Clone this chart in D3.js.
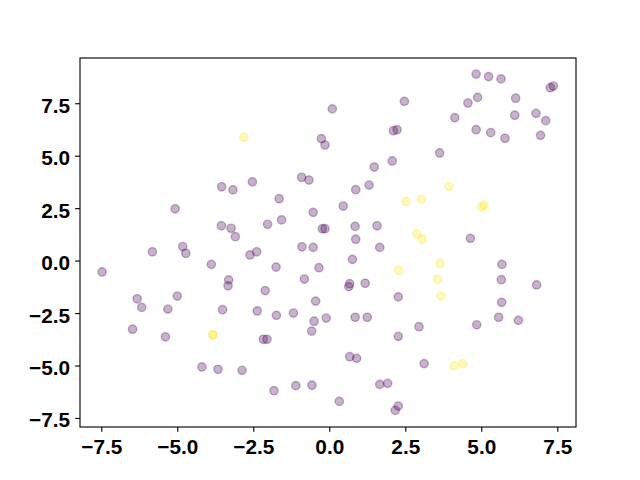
<!DOCTYPE html>
<html>
<head>
<meta charset="utf-8">
<script src="https://cdn.jsdelivr.net/npm/d3@7"></script>
<style>
  html, body { margin: 0; padding: 0; background: #fff; }
  svg { display: block; }
  .tick text { font-family: "Liberation Sans", Arial, sans-serif; font-weight: bold; font-size: 20.8px; fill: #000; }
</style>
</head>
<body>
<script>
// Data
const purpleX = [-3.54,-3.17,-2.53,-5.07,-3.55,-3.23,-3.09,-4.82,-4.72,-5.82,0.10,2.47,2.11,2.23,-0.26,-0.14,2.07,1.48,-0.91,-0.67,1.31,0.87,-1.65,0.46,-0.53,-2.03,-1.57,-0.23,-0.14,0.85,1.57,0.87,-0.90,-0.53,1.66,-2.39,4.83,5.24,5.65,7.27,7.37,4.88,4.56,6.13,4.13,6.10,6.80,7.12,4.83,5.31,5.78,6.95,3.63,4.64,-7.47,-3.88,-3.31,-3.33,-6.32,-6.17,-5.00,-5.31,-3.51,-6.47,-5.39,-4.19,-3.66,-2.87,-2.61,-1.75,-0.34,0.76,-0.82,0.67,0.64,1.18,-2.11,-0.45,2.27,-2.37,-1.74,-1.18,-0.50,-0.10,-0.58,0.85,1.25,2.27,2.95,-2.17,-2.05,0.67,0.90,-1.82,-1.10,-0.57,1.66,1.92,0.33,2.17,2.27,5.68,5.66,6.82,5.67,4.85,5.57,6.22,3.12];
const purpleY = [3.52,3.37,3.75,2.47,1.66,1.54,1.14,0.67,0.35,0.42,7.23,7.59,6.19,6.24,5.81,5.51,4.75,4.46,3.97,3.84,3.60,3.38,2.95,2.60,2.30,1.73,1.94,1.52,1.52,1.63,1.66,1.02,0.66,0.63,0.63,0.42,8.89,8.77,8.66,8.24,8.32,7.78,7.51,7.74,6.81,6.93,7.02,6.67,6.24,6.10,5.83,5.97,5.13,1.06,-0.54,-0.18,-0.92,-1.20,-1.82,-2.23,-1.69,-2.31,-2.34,-3.27,-3.63,-5.07,-5.18,-5.23,0.27,-0.31,-0.34,0.06,-0.88,-1.10,-1.24,-1.08,-1.43,-1.93,-1.73,-2.40,-2.61,-2.50,-2.89,-2.74,-3.36,-2.70,-2.70,-3.61,-3.15,-3.75,-3.75,-4.58,-4.66,-6.20,-5.96,-5.94,-5.90,-5.85,-6.71,-7.14,-6.93,-0.18,-0.91,-1.16,-1.99,-3.06,-2.70,-2.85,-4.91];
const yellowX = [-2.81,2.52,3.94,3.03,5.09,5.03,2.88,3.06,-3.83,-3.82,2.28,3.64,3.57,3.68,4.10,4.38];
const yellowY = [5.88,2.83,3.54,2.92,2.66,2.55,1.28,1.02,-3.53,-3.55,-0.46,-0.13,-0.89,-1.69,-5.02,-4.91];
const xTicks = [-7.5,-5.0,-2.5,0.0,2.5,5.0,7.5];
const yTicks = [-7.5,-5.0,-2.5,0.0,2.5,5.0,7.5];
const groupColors = ["#440154", "#fde725"];

const W = 640, H = 480;
const plotLeft = 80, plotRight = 576, plotTop = 58, plotBottom = 427;

const points = [];
purpleX.forEach((x, i) => points.push({x, y: purpleY[i], g: 0}));
yellowX.forEach((x, i) => points.push({x, y: yellowY[i], g: 1}));

const svg = d3.select("body").append("svg").attr("width", W).attr("height", H);

const xScale = d3.scaleLinear().domain([-8.2, 8.115]).range([plotLeft, plotRight]);
const yScale = d3.scaleLinear().domain([-7.931, 9.657]).range([plotBottom, plotTop]);

svg.append("g").selectAll("circle").data(points).join("circle")
  .attr("cx", d => xScale(d.x))
  .attr("cy", d => yScale(d.y))
  .attr("r", 4.17)
  .attr("fill", d => groupColors[d.g])
  .attr("fill-opacity", 0.3)
  .attr("stroke", d => groupColors[d.g])
  .attr("stroke-opacity", 0.3)
  .attr("stroke-width", 1.4);

const fmt = d3.format(".1f");

const xAxis = svg.append("g").attr("transform", `translate(0,${plotBottom})`)
  .call(d3.axisBottom(xScale).tickValues(xTicks).tickFormat(fmt).tickSize(4.86).tickPadding(7.8).tickSizeOuter(0));
const yAxis = svg.append("g").attr("transform", `translate(${plotLeft},0)`)
  .call(d3.axisLeft(yScale).tickValues(yTicks).tickFormat(fmt).tickSize(4.86).tickPadding(5.1).tickSizeOuter(0));
yAxis.selectAll(".tick text").attr("dy", "0.43em");
[xAxis, yAxis].forEach(a => {
  a.select(".domain").remove();
  a.selectAll(".tick line").attr("stroke", "#000").attr("stroke-width", 1.11);
});

svg.append("rect")
  .attr("x", plotLeft).attr("y", plotTop)
  .attr("width", plotRight - plotLeft).attr("height", plotBottom - plotTop)
  .attr("fill", "none").attr("stroke", "#000").attr("stroke-width", 1.11);
</script>
</body>
</html>
